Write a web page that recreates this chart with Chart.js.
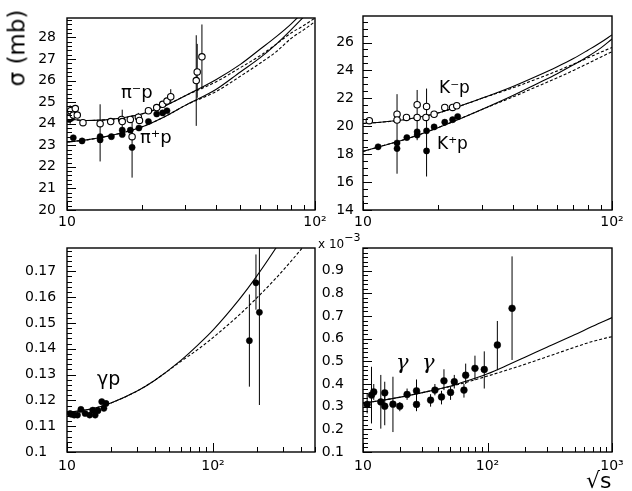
<!DOCTYPE html>
<html><head><meta charset="utf-8">
<script src="https://cdn.jsdelivr.net/npm/chart.js@4/dist/chart.umd.min.js"></script>
<style>
html,body{margin:0;padding:0;background:#fff;}
#wrap{position:relative;width:632px;height:491px;overflow:hidden;background:#fff;}
canvas{position:absolute;left:0;top:0;}
.lbl{position:absolute;font-family:'DejaVu Sans',sans-serif;color:#000;white-space:nowrap;line-height:1;}
</style></head><body>
<div id="wrap">
<canvas id="c1" width="632" height="491"></canvas>
<canvas id="c2" width="632" height="491"></canvas>
<canvas id="c3" width="632" height="491"></canvas>
<canvas id="c4" width="632" height="491"></canvas>
<div class="lbl" style="left:17px;top:48px;font-size:23px;transform:translate(-50%,-50%) rotate(-90deg);">σ (mb)</div>
<div class="lbl" style="left:121px;top:83px;font-size:18px;">π⁻p</div>
<div class="lbl" style="left:140px;top:128px;font-size:18px;">π⁺p</div>
<div class="lbl" style="left:439px;top:79px;font-size:17px;">K⁻p</div>
<div class="lbl" style="left:437px;top:135px;font-size:17px;">K⁺p</div>
<div class="lbl" style="left:97px;top:369px;font-size:19px;">γp</div>
<div class="lbl" style="left:396px;top:352px;font-size:21px;font-family:'DejaVu Serif',serif;font-style:italic;">γ&nbsp;&nbsp;γ</div>
<div class="lbl" style="left:318px;top:238px;font-size:12px;">x 10<span style="font-size:11px;position:relative;top:-7px;">−3</span></div>
<div class="lbl" style="left:586px;top:470px;font-size:22px;">√s</div>
</div>
<script>
// ---------- Panel 1: pi p ----------
const piMinusX = [10.2, 10.35, 10.6, 10.8, 11.0, 11.6, 13.6, 15.0, 16.6, 16.7, 18.0, 18.3, 19.4, 19.6, 21.3, 23.0, 24.3, 25.3, 26.2, 33.2, 33.5, 35.0];
const piMinusY = [24.3, 24.6, 24.4, 24.7, 24.4, 24.05, 24.0, 24.1, 24.2, 24.1, 24.2, 23.4, 24.3, 24.15, 24.6, 24.75, 24.9, 25.05, 25.25, 26.0, 26.4, 27.1];
const piPlusX = [10.2, 10.4, 10.6, 11.5, 13.6, 13.6, 15.1, 16.7, 16.7, 18.0, 18.3, 19.5, 21.3, 23.0, 24.3, 25.3];
const piPlusY = [24.2, 24.25, 23.35, 23.2, 23.4, 23.25, 23.4, 23.7, 23.5, 23.7, 22.9, 23.8, 24.1, 24.45, 24.5, 24.6];
const piErrX  = [10.3, 13.6, 16.7, 18.3, 19.4, 26.2, 33.2, 33.5, 35.0];
const piErrLo = [24.0, 22.25, 23.6, 21.5, 24.1, 25.0, 23.9, 25.2, 25.6];
const piErrHi = [24.85, 24.9, 24.65, 24.4, 24.5, 25.6, 28.1, 27.7, 28.6];
const piFitX = [10, 12, 15, 20, 25, 30, 40, 50, 60, 70, 80, 90, 100];
const piMinusFitSolid = [24.22, 24.15, 24.2, 24.45, 24.85, 25.3, 26.05, 26.75, 27.45, 28.05, 28.62, 29.2, 29.75];
const piPlusFitSolid  = [23.15, 23.25, 23.45, 23.85, 24.35, 24.85, 25.6, 26.4, 27.05, 27.7, 28.35, 28.95, 29.5];
const piMinusFitDash  = [24.22, 24.15, 24.2, 24.45, 24.85, 25.3, 25.95, 26.6, 27.15, 27.7, 28.2, 28.55, 28.9];
const piPlusFitDash   = [23.15, 23.25, 23.45, 23.85, 24.35, 24.85, 25.5, 26.2, 26.8, 27.35, 27.95, 28.35, 28.73];
const p1YTicks = [20, 21, 22, 23, 24, 25, 26, 27, 28];
const p1XTicks = [10, 100];
const p1XLabels = ['10', '10²'];

// ---------- Panel 2: K p ----------
const kMinusX = [10.6, 13.7, 13.7, 14.95, 16.5, 16.5, 18.0, 17.9, 19.3, 21.3, 22.9, 23.8];
const kMinusY = [20.4, 20.86, 20.45, 20.63, 21.54, 20.63, 21.42, 20.63, 20.86, 21.35, 21.35, 21.47];
const kPlusX = [11.5, 13.7, 13.7, 15.0, 16.5, 16.5, 18.0, 18.0, 19.3, 21.3, 22.9, 24.0];
const kPlusY = [18.53, 18.8, 18.4, 19.19, 19.37, 19.6, 19.67, 18.23, 19.95, 20.29, 20.47, 20.7];
const kErrX  = [13.7, 16.5, 18.0];
const kErrLo = [16.6, 19.0, 16.4];
const kErrHi = [22.3, 22.6, 22.7];
const kFitX = [10, 12, 15, 20, 25, 30, 40, 50, 60, 70, 80, 90, 100];
const kMinusFitSolid = [20.2, 20.3, 20.5, 20.95, 21.5, 22.0, 22.85, 23.6, 24.25, 24.85, 25.45, 26.0, 26.55];
const kPlusFitSolid  = [18.2, 18.6, 19.1, 19.9, 20.6, 21.2, 22.2, 23.05, 23.75, 24.4, 25.0, 25.6, 26.25];
const kMinusFitDash  = [20.2, 20.3, 20.5, 20.95, 21.5, 22.0, 22.75, 23.4, 23.95, 24.45, 24.9, 25.3, 25.65];
const kPlusFitDash   = [18.2, 18.6, 19.1, 19.9, 20.6, 21.2, 22.1, 22.85, 23.45, 24.0, 24.5, 24.95, 25.35];
const p2YTicks = [14, 16, 18, 20, 22, 24, 26];
const p2XTicks = [10, 100];
const p2XLabels = ['10', '10²'];

// ---------- Panel 3: gamma p ----------
const gpX  = [10.5, 10.7, 11.2, 11.8, 12.45, 13.3, 14.3, 15.0, 15.6, 16.3, 17.3, 17.9, 18.5, 177.6, 197, 208];
const gpY  = [0.1149, 0.1146, 0.1143, 0.1143, 0.1165, 0.1149, 0.1143, 0.1162, 0.1143, 0.116, 0.1195, 0.1169, 0.1188, 0.1431, 0.1655, 0.1541];
const gpLo = [0.1138, 0.1136, 0.1133, 0.1133, 0.1155, 0.1139, 0.1133, 0.1152, 0.1133, 0.115, 0.1185, 0.1159, 0.1178, 0.1253, 0.1551, 0.1182];
const gpHi = [0.116, 0.1156, 0.1153, 0.1153, 0.1175, 0.1159, 0.1153, 0.1172, 0.1153, 0.117, 0.1205, 0.1179, 0.1198, 0.161, 0.1765, 0.19];
const gpFitX = [10, 15, 20, 30, 40, 60, 80, 100, 150, 200, 270, 350, 500];
const gpFitSolid = [0.1153, 0.1168, 0.119, 0.1235, 0.1278, 0.1354, 0.1418, 0.1472, 0.1588, 0.1682, 0.179, 0.189, 0.204];
const gpFitDash  = [0.1153, 0.1168, 0.119, 0.1235, 0.1278, 0.1350, 0.1400, 0.1443, 0.1529, 0.1597, 0.1673, 0.1745, 0.1849];
const p3YTicks = [0.1, 0.11, 0.12, 0.13, 0.14, 0.15, 0.16, 0.17];
const p3YLabels = ['0.1', '0.11', '0.12', '0.13', '0.14', '0.15', '0.16', '0.17'];
const p3XTicks = [10, 100];
const p3XLabels = ['10', '10²'];

// ---------- Panel 4: gamma gamma (x 10^-3 mb) ----------
const ggX  = [10.8, 11.7, 12.2, 13.9, 14.95, 14.95, 17.4, 19.75, 22.6, 26.9, 26.9, 34.9, 37.8, 42.7, 44.7, 50.5, 54.1, 64.7, 66.8, 79.3, 94.2, 120, 157.5];
const ggY  = [0.31, 0.351, 0.365, 0.321, 0.361, 0.302, 0.311, 0.302, 0.354, 0.37, 0.31, 0.329, 0.373, 0.343, 0.414, 0.363, 0.41, 0.373, 0.439, 0.469, 0.464, 0.572, 0.734];
const ggLo = [0.27, 0.226, 0.33, 0.203, 0.33, 0.218, 0.188, 0.28, 0.33, 0.33, 0.28, 0.30, 0.35, 0.31, 0.373, 0.33, 0.38, 0.34, 0.40, 0.417, 0.38, 0.461, 0.506];
const ggHi = [0.36, 0.476, 0.40, 0.44, 0.41, 0.36, 0.432, 0.32, 0.38, 0.42, 0.34, 0.355, 0.40, 0.37, 0.465, 0.39, 0.44, 0.40, 0.49, 0.525, 0.544, 0.678, 0.963];
const ggFitX = [10, 15, 20, 30, 50, 70, 100, 150, 200, 300, 500, 700, 1000];
const ggFitSolid = [0.315, 0.33, 0.342, 0.362, 0.39, 0.415, 0.445, 0.487, 0.518, 0.562, 0.617, 0.655, 0.693];
const ggFitDash  = [0.315, 0.33, 0.342, 0.362, 0.389, 0.41, 0.435, 0.465, 0.487, 0.52, 0.562, 0.588, 0.609];
const p4YTicks = [0.1, 0.2, 0.3, 0.4, 0.5, 0.6, 0.7, 0.8, 0.9];
const p4YLabels = ['0.1', '0.2', '0.3', '0.4', '0.5', '0.6', '0.7', '0.8', '0.9'];
const p4XTicks = [10, 100, 1000];
const p4XLabels = ['10', '10²', '10³'];

// ---------- helpers ----------
const pts = (xs, ys) => xs.map((x, i) => ({x, y: ys[i]}));
const errs = (xs, lo, hi) => { const d = []; xs.forEach((x, i) => { d.push({x, y: lo[i]}, {x, y: hi[i]}, {x, y: null}); }); return d; };

function openPts(xs, ys){ return {data: pts(xs, ys), showLine:false, pointRadius:3.2, pointBackgroundColor:'#fff', pointBorderColor:'#000', pointBorderWidth:1.1}; }
function fillPts(xs, ys, r){ return {data: pts(xs, ys), showLine:false, pointRadius:r||3.1, pointBackgroundColor:'#000', pointBorderColor:'#000', pointBorderWidth:0.5}; }
function errSet(xs, lo, hi){ return {data: errs(xs, lo, hi), showLine:true, spanGaps:false, pointRadius:0, borderColor:'#000', borderWidth:1, clip:0}; }
function curve(xs, ys, dashed){ return {data: pts(xs, ys), showLine:true, pointRadius:0, borderColor:'#000', borderWidth:1.1, borderDash: dashed ? [3,2] : [], cubicInterpolationMode:'monotone', clip:0}; }

const framePlugin = {
  id: 'frame',
  afterDraw(chart){
    const c = chart.ctx, a = chart.chartArea;
    c.save();
    c.strokeStyle = '#000';
    c.lineWidth = 1;
    const xs = chart.scales.x, ys = chart.scales.y;
    xs.ticks.forEach(t => {
      const p = Math.round(xs.getPixelForValue(t.value)) + 0.5;
      const L = t.mj ? 9 : 5;
      c.beginPath(); c.moveTo(p, a.bottom); c.lineTo(p, a.bottom - L); c.stroke();
    });
    ys.ticks.forEach(t => {
      const p = Math.round(ys.getPixelForValue(t.value)) + 0.5;
      const L = t.mj ? 9 : 5;
      c.beginPath(); c.moveTo(a.left, p); c.lineTo(a.left + L, p); c.stroke();
    });
    c.lineWidth = 1.4;
    c.strokeRect(a.left, a.top, a.right - a.left, a.bottom - a.top);
    c.restore();
  }
};

function logTicks(min, max, majors){
  const t = [];
  for (let d = 10; d < max * 1.0001; d *= 10) {
    for (let k = 1; k <= 9; k++) {
      const v = Math.round(d * k * 1000) / 1000;
      if (v >= min - 1e-9 && v <= max + 1e-9) t.push({value: v, mj: majors.includes(v)});
    }
  }
  return t;
}
function linTicks(min, max, step, majors){
  const t = [];
  const n = Math.round((max - min) / step);
  for (let i = 0; i <= n; i++) {
    const v = Math.round((min + i * step) * 100000) / 100000;
    if (v <= max + 1e-9) t.push({value: v, mj: majors.some(m => Math.abs(m - v) < 1e-7)});
  }
  return t;
}

const W = 632, H = 491;
function panel(id, p){
  const xh = 30;
  new Chart(document.getElementById(id), {
    type: 'scatter',
    data: {datasets: p.datasets},
    options: {
      responsive: false, animation: false, events: [],
      layout: {autoPadding: false, padding: {left: p.area[0] - p.yw, top: p.area[1], right: W - p.area[2], bottom: H - p.area[3] - xh}},
      plugins: {legend: {display: false}, tooltip: {enabled: false}},
      scales: {
        x: {
          type: 'logarithmic', min: p.xmin, max: p.xmax,
          afterFit(s){ s.height = xh; },
          afterBuildTicks(s){ s.ticks = logTicks(p.xmin, p.xmax, p.xTicks); },
          ticks: {autoSkip: false, maxRotation: 0, minRotation: 0, padding: p.xpad, color: '#000',
            font: {family: 'DejaVu Sans', size: 14, lineHeight: 1},
            callback(v){ const i = p.xTicks.indexOf(v); return i >= 0 ? p.xLabels[i] : ''; }},
          grid: {display: false, drawTicks: false}, border: {display: false}
        },
        y: {
          type: 'linear', min: p.ymin, max: p.ymax,
          afterFit(s){ s.width = p.yw; },
          afterBuildTicks(s){ s.ticks = linTicks(p.ymin, p.ymax, p.ystep, p.yTicks); },
          ticks: {autoSkip: false, padding: p.ypad, color: '#000', crossAlign: p.cross || 'near',
            font: {family: 'DejaVu Sans', size: 14, lineHeight: 1},
            callback(v){ const i = p.yTicks.findIndex(m => Math.abs(m - v) < 1e-7); return i >= 0 ? p.yLabels[i] : ''; }},
          grid: {display: false, drawTicks: false}, border: {display: false}
        }
      }
    },
    plugins: [framePlugin]
  });
}

panel('c1', {
  area: [67, 7, 315, 210], yw: 60, xpad: 5, ypad: 11,
  xmin: 10, xmax: 100, ymin: 20, ymax: 28.9, ystep: 0.2,
  xTicks: p1XTicks, xLabels: p1XLabels, yTicks: p1YTicks, yLabels: p1YTicks.map(String),
  datasets: [
    openPts(piMinusX, piMinusY), fillPts(piPlusX, piPlusY),
    errSet(piErrX, piErrLo, piErrHi),
    curve(piFitX, piMinusFitSolid, false), curve(piFitX, piPlusFitSolid, false),
    curve(piFitX, piMinusFitDash, true), curve(piFitX, piPlusFitDash, true)
  ]
});
panel('c2', {
  area: [363, 7, 612, 210], yw: 60, xpad: 5, ypad: 9,
  xmin: 10, xmax: 100, ymin: 14, ymax: 27.9, ystep: 0.5,
  xTicks: p2XTicks, xLabels: p2XLabels, yTicks: p2YTicks, yLabels: p2YTicks.map(String),
  datasets: [
    openPts(kMinusX, kMinusY), fillPts(kPlusX, kPlusY),
    errSet(kErrX, kErrLo, kErrHi),
    curve(kFitX, kMinusFitSolid, false), curve(kFitX, kPlusFitSolid, false),
    curve(kFitX, kMinusFitDash, true), curve(kFitX, kPlusFitDash, true)
  ]
});
panel('c3', {
  area: [67, 248, 315, 452], yw: 42, xpad: 7, ypad: 12, cross: 'far',
  xmin: 10, xmax: 500, ymin: 0.1, ymax: 0.179, ystep: 0.002,
  xTicks: p3XTicks, xLabels: p3XLabels, yTicks: p3YTicks, yLabels: p3YLabels,
  datasets: [
    fillPts(gpX, gpY),
    errSet(gpX, gpLo, gpHi),
    curve(gpFitX, gpFitSolid, false), curve(gpFitX, gpFitDash, true)
  ]
});
panel('c4', {
  area: [363, 248, 612, 452], yw: 60, xpad: 7, ypad: 19,
  xmin: 10, xmax: 1000, ymin: 0.1, ymax: 1.0, ystep: 0.02,
  xTicks: p4XTicks, xLabels: p4XLabels, yTicks: p4YTicks, yLabels: p4YLabels,
  datasets: [
    fillPts(ggX, ggY, 3.4),
    errSet(ggX, ggLo, ggHi),
    curve(ggFitX, ggFitSolid, false), curve(ggFitX, ggFitDash, true)
  ]
});
</script>
</body></html>
